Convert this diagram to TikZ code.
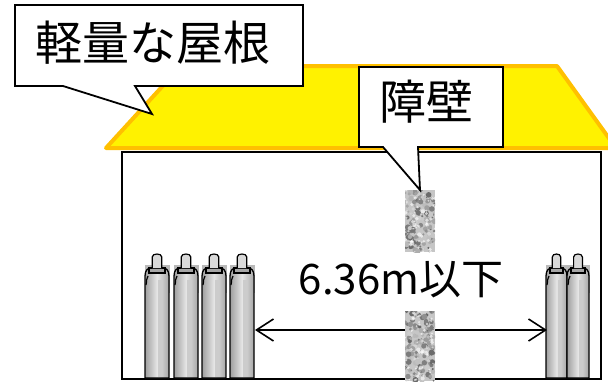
\documentclass[tikz,border=0pt]{standalone}
\usepackage{fontspec}
\setmainfont{Noto Sans CJK JP}
\usetikzlibrary{arrows.meta}

% granite-like texture filling a rectangle
\newcommand\granitebox[4]{%
  \begin{scope}
    \clip (#1,#2) rectangle (#3,#4);
    \fill[gray!45] (#1,#2) rectangle (#3,#4);
    \foreach \k in {1,...,160}{%
      \pgfmathsetmacro\gx{#1+rnd*(#3-#1)}%
      \pgfmathsetmacro\gy{#2+rnd*(#4-#2)}%
      \pgfmathsetmacro\gr{0.8+rnd*2.2}%
      \pgfmathsetmacro\gc{15+rnd*45}%
      \fill[black!\gc] (\gx,\gy) circle (\gr);
    }
    \foreach \k in {1,...,50}{%
      \pgfmathsetmacro\gx{#1+rnd*(#3-#1)}%
      \pgfmathsetmacro\gy{#2+rnd*(#4-#2)}%
      \pgfmathsetmacro\gr{0.6+rnd*1.6}%
      \fill[white, opacity=0.6] (\gx,\gy) circle (\gr);
    }
  \end{scope}}

% gas cylinder: left x, width
\newcommand\gascyl[2]{%
  \pgfmathsetmacro\cx{#1+#2/2}%
  \pgfmathsetmacro\cr{#1+#2}%
  \fill[gray!55] (#1,265) rectangle (\cr+1,293);
  \shade[left color=gray!75, right color=gray!70, middle color=gray!20, draw=black, line width=1.3]
    (#1,378) -- (#1,276) .. controls (#1,270) and (#1+3,268) .. (#1+6,268)
    -- (\cr-6,268) .. controls (\cr-3,268) and (\cr,270) .. (\cr,276) -- (\cr,378) -- cycle;
  \fill[gray!40] (#1+#2*0.55,280) rectangle (#1+#2*0.72,377);
  \draw[line width=1.2, fill=gray!70] (#1+4,268) rectangle (\cr-4,273);
  \draw[line width=1.2, fill=gray!30] (\cx-#2*0.2,268) -- (\cx-#2*0.2,257)
    .. controls (\cx-#2*0.2,253) and (\cx+#2*0.2,253) .. (\cx+#2*0.2,257) -- (\cx+#2*0.2,268);
  \draw[line width=1.2] (#1+1,285) .. controls (#1+2,281) and (#1+1,278) .. (#1+3,276);
}

\begin{document}
\begin{tikzpicture}[x=1pt,y=-1pt,
  callout/.style={fill=white, draw=black, line width=1.8, line join=miter},
  bigtext/.style={font=\fontsize{47}{50}\selectfont, inner sep=0pt},
  measure/.style={line width=1.6, {Straight Barb[length=17pt,width=22pt]}-{Straight Barb[length=17pt,width=22pt]}}]
\useasboundingbox (0,0) rectangle (608,381);
\fill[white] (0,0) rectangle (608,381);
\begin{scope}
\clip (0,0) rectangle (608,381);

% roof
\draw[fill=yellow, draw={rgb,255:red,255;green,192;blue,0}, line width=4, line join=round]
  (106,148) -- (181,66) -- (557,66) -- (616,148) -- cycle;

% building walls
\draw[line width=1.6] (122,152) rectangle (601,379);

% cylinders
\foreach \x in {145,174,202,230} {\gascyl{\x}{24}}
\gascyl{546}{21}
\gascyl{567}{22}

% distance arrow
\coordinate (leftEnd) at (255,330);
\coordinate (rightEnd) at (547,330);
\draw[measure] (leftEnd) -- (rightEnd);

% partition wall pieces
\pgfmathsetseed{7}
\granitebox{405}{190}{435}{252}
\granitebox{405}{311}{435}{381}

\node[bigtext, font=\fontsize{42}{46}\selectfont] (dist) at (401,280) {6.36m以下};

% callouts
\draw[callout] (15,5) -- (303,5) -- (303,86) -- (135,86) -- (152,114) -- (63,86) -- (15,86) -- cycle;
\node[bigtext] (roofLabel) at (153,43) {軽量な屋根};

\draw[callout] (359,67) -- (503,67) -- (503,147) -- (418,147) -- (420,190) -- (383,147) -- (359,147) -- cycle;
\node[bigtext] (wallLabel) at (426,102) {障壁};
\end{scope}
\end{tikzpicture}
\end{document}
